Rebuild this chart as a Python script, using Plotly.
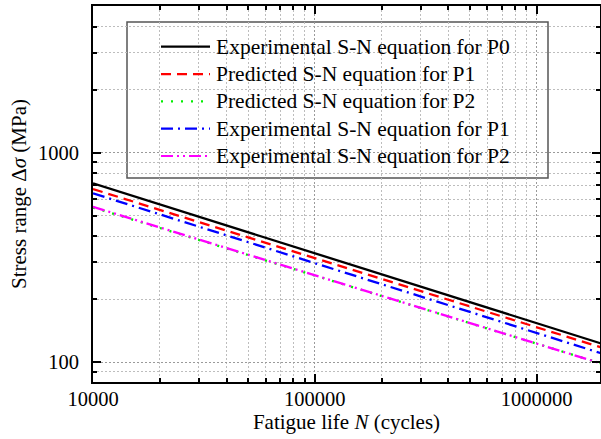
import plotly.graph_objects as go

# Data (fatigue life N in cycles, stress range in MPa)
N = [10000, 100000, 1000000, 2000000]
exp_p0 = [714, 331, 153.7, 122]
pred_p1 = [671, 314, 147, 117]
pred_p2 = [548, 259, 123, 98]
exp_p1 = [640, 297, 138, 109.6]
exp_p2 = [552, 260, 123, 98]

names = ["Experimental S-N equation for P0", "Predicted S-N equation for P1",
         "Predicted S-N equation for P2", "Experimental S-N equation for P1",
         "Experimental S-N equation for P2"]
values = [exp_p0, pred_p1, pred_p2, exp_p1, exp_p2]
colors = ["#000000", "#ff0000", "#00ee00", "#0000ff", "#ff00ff"]
dashes = ["solid", "10px,6px", "2px,8px", "12px,5px,2px,5px", "12px,4px,2px,4px,2px,4px"]

FONT = "Liberation Serif"
W, H = 601, 439
ML, MR, MT, MB = 93, 1, 6, 57
PW, PH = W - ML - MR, H - MT - MB


def px(xp):
    return (xp - ML) / PW


def py(yp):
    return 1 - (yp - MT) / PH


fig = go.Figure()
for name, vals, color, dash in zip(names, values, colors, dashes):
    fig.add_trace(go.Scatter(x=N, y=vals, mode="lines", name=name, showlegend=False,
                             line=dict(color=color, width=2.3, dash=dash)))

axis_common = dict(
    type="log", showline=True, linecolor="black", linewidth=2, mirror="ticks",
    ticks="inside", ticklen=8, tickwidth=1.5, tickcolor="black", dtick=1,
    tickformat="d", showgrid=True, gridcolor="#9a9a9a", griddash="2px,2px", gridwidth=1,
    zeroline=False, tickfont=dict(family=FONT, size=20.5, color="black"),
    automargin=False,
    minor=dict(dtick="D1", ticks="inside", ticklen=4, tickcolor="black",
               showgrid=True, gridcolor="#bdbdbd", griddash="2px,2px", gridwidth=1),
)

# Manual legend: box, line samples and labels
shapes = [dict(type="rect", xref="paper", yref="paper",
               x0=px(127), x1=px(548), y0=py(178), y1=py(22),
               line=dict(color="#555555", width=1.5), fillcolor="white",
               layer="between")]
annotations = []
for i, (name, color, dash) in enumerate(zip(names, colors, dashes)):
    yc = 46.7 + i * 27.33
    shapes.append(dict(type="line", xref="paper", yref="paper",
                       x0=px(161), x1=px(210), y0=py(yc), y1=py(yc),
                       line=dict(color=color, width=2.2, dash=dash), layer="above"))
    annotations.append(dict(text=name, xref="paper", yref="paper", x=px(214), y=py(yc),
                            xanchor="left", yanchor="middle", showarrow=False,
                            font=dict(family=FONT, size=21.5, color="black")))

fig.update_layout(
    width=W, height=H,
    margin=dict(l=ML, r=MR, t=MT, b=MB),
    plot_bgcolor="white", paper_bgcolor="white",
    font=dict(family=FONT, size=21, color="black"),
    xaxis=dict(axis_common, range=[4, 6.286], ticklabelstandoff=-3,
               title=dict(text="Fatigue life <i>N</i> (cycles)", standoff=0,
                          font=dict(family=FONT, size=21))),
    yaxis=dict(axis_common, range=[1.906, 3.70], ticklabelstandoff=8,
               title=dict(text="Stress range Δ<i>σ</i> (MPa)", standoff=6,
                          font=dict(family=FONT, size=21))),
    shapes=shapes,
    annotations=annotations,
    showlegend=False,
)

fig.write_html("out.html", config={"displayModeBar": False},
               post_script="document.body.style.margin='0';document.body.style.padding='0';")
